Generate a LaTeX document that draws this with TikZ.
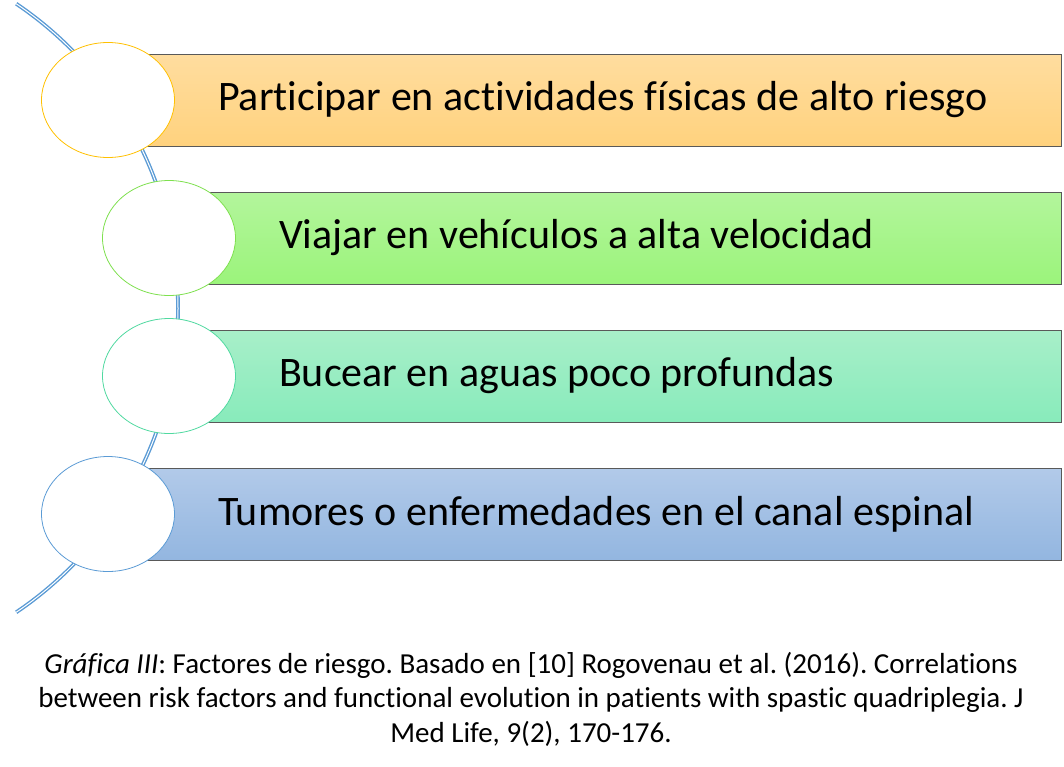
\documentclass[tikz,border=0pt]{standalone}
\usepackage{fontspec}
\setmainfont[Ligatures={NoCommon}]{Carlito}
\usepackage{tikz}
\usetikzlibrary{shapes.geometric, positioning}
\usepackage{xcolor}
\frenchspacing

\definecolor{rim}{HTML}{595959}
\definecolor{spineblue}{HTML}{5B9BD5}
\definecolor{ambertop}{HTML}{FFDD9F}
\definecolor{amberbot}{HTML}{FFD27E}
\definecolor{amberedge}{HTML}{FFC000}
\definecolor{limetop}{HTML}{B3F59C}
\definecolor{limebot}{HTML}{9BF47B}
\definecolor{limeedge}{HTML}{7EE04E}
\definecolor{mintop}{HTML}{A8EFC9}
\definecolor{minbot}{HTML}{88EBBB}
\definecolor{minedge}{HTML}{50D9A0}
\definecolor{skytop}{HTML}{B2CAE9}
\definecolor{skybot}{HTML}{93B6E0}

\tikzset{
  bar/.style={draw=rim, line width=0.8pt, rectangle, anchor=west,
              minimum height=92pt, inner sep=0pt},
  bullet/.style={ellipse, fill=white, line width=0.8pt,
                 minimum width=133pt, minimum height=115pt, inner sep=0pt},
  label/.style={anchor=west, inner sep=0pt, font=\fontsize{42}{50}\selectfont},
  spine/.style={draw=spineblue, double=white, double distance=1pt, line width=1.4pt}
}

\begin{document}
\begin{tikzpicture}[x=1pt, y=-1pt]
\useasboundingbox (0,0) rectangle (1064,766);
%
\coordinate (hub) at (-189,308);
\draw[spine] (hub) ++(-56:367) arc[start angle=-56, end angle=56, radius=367];
%
\node[bar, top color=ambertop, bottom color=amberbot, minimum width=953pt] (b1) at (108,100) {};
\node[bar, top color=limetop, bottom color=limebot, minimum width=892pt] (b2) at (169,238) {};
\node[bar, top color=mintop, bottom color=minbot, minimum width=892pt] (b3) at (169,376) {};
\node[bar, top color=skytop, bottom color=skybot, minimum width=953pt] (b4) at (108,514) {};
%
\node[bullet, draw=amberedge] (c1) at (b1.west) {};
\node[bullet, draw=limeedge] (c2) at (b2.west) {};
\node[bullet, draw=minedge] (c3) at (b3.west) {};
\node[bullet, draw=spineblue] (c4) at (b4.west) {};
%
\node[label, right=43pt of c1.east] (t1) {Participar en actividades físicas de alto riesgo};
\node[label, right=43pt of c2.east] (t2) {Viajar en vehículos a alta velocidad};
\node[label, right=43pt of c3.east] (t3) {Bucear en aguas poco profundas};
\node[label, right=43pt of c4.east] (t4) {Tumores o enfermedades en el canal espinal};
%
\node[align=center, font=\fontsize{29}{34.5}\selectfont] (cap) at (531,699)
  {\textit{Gráfica III}: Factores de riesgo. Basado en [10] Rogovenau et al. (2016). Correlations\\
   between risk factors and functional evolution in patients with spastic quadriplegia. J\\
   Med Life, 9(2), 170-176.};
\end{tikzpicture}
\end{document}
